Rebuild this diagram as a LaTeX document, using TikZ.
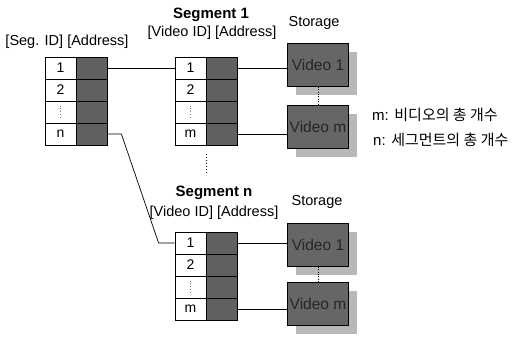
\documentclass[tikz,border=0pt]{standalone}
\usepackage{fontspec}
\setmainfont{Liberation Sans}
\newfontfamily\kor{Noto Sans CJK KR}
\usetikzlibrary{shadows}
\tikzset{
	idcell/.style={draw, line width=0.8pt, fill=white, minimum width=31pt, minimum height=22pt, inner sep=0pt, font=\fontsize{14}{16}\selectfont},
	addrcell/.style={draw, line width=0.8pt, fill=black!62, minimum width=31pt, minimum height=22pt, inner sep=0pt},
	videobox/.style={draw, line width=0.8pt, fill=black!60, minimum width=61pt, minimum height=43pt, inner sep=0pt, text=black!85, font=\fontsize{15.5}{17}\selectfont,
		drop shadow={shadow xshift=8pt, shadow yshift=-9pt, fill=black!28, opacity=1, draw=none}},
	lbl/.style={font=\fontsize{14.5}{16}\selectfont, inner sep=0pt},
	segtitle/.style={font=\fontsize{15}{17}\selectfont\bfseries, inner sep=0pt},
	legend/.style={font=\fontsize{15}{17}\selectfont, anchor=west, inner sep=0pt},
	link/.style={line width=0.7pt},
	celldots/.style={dotted, line width=0.8pt, black!55},
}
\begin{document}
\begin{tikzpicture}[x=1pt, y=-1pt]
				\useasboundingbox (0,0) rectangle (515,339);
				\node[lbl] (sidhead) at (67,42) {[Seg. ID] [Address]};
				\node[idcell] (sid1) at (60.5,68) {1};
				\node[idcell] (sid2) at (60.5,90) {2};
				\node[idcell] (sid3) at (60.5,112) {};
				\node[idcell] (sidn) at (60.5,134) {n};
				\node[addrcell] (sad1) at (91.5,68) {};
				\node[addrcell] (sad2) at (91.5,90) {};
				\node[addrcell] (sad3) at (91.5,112) {};
				\node[addrcell] (sadn) at (91.5,134) {};
				\node[segtitle] (atitle) at (211,15) {Segment 1};
				\node[lbl] (ahead) at (212,33) {[Video ID] [Address]};
				\node[idcell] (aid1) at (190.5,68) {1};
				\node[idcell] (aid2) at (190.5,90) {2};
				\node[idcell] (aid3) at (190.5,112) {};
				\node[idcell] (aidm) at (190.5,134) {m};
				\node[addrcell] (aad1) at (221.5,68) {};
				\node[addrcell] (aad2) at (221.5,90) {};
				\node[addrcell] (aad3) at (221.5,112) {};
				\node[addrcell] (aadm) at (221.5,134) {};
				\node[lbl] (astore) at (314,23) {Storage};
				\node[videobox] (v11) at (318,65) {Video 1};
				\node[videobox] (v1m) at (318,127) {Video m};
				\node[segtitle] (btitle) at (214,193) {Segment n};
				\node[lbl] (bhead) at (214,213) {[Video ID] [Address]};
				\node[idcell] (bid1) at (190.5,243) {1};
				\node[idcell] (bid2) at (190.5,265) {2};
				\node[idcell] (bid3) at (190.5,287) {};
				\node[idcell] (bidm) at (190.5,309) {m};
				\node[addrcell] (bad1) at (221.5,243) {};
				\node[addrcell] (bad2) at (221.5,265) {};
				\node[addrcell] (bad3) at (221.5,287) {};
				\node[addrcell] (badm) at (221.5,309) {};
				\node[lbl] (bstore) at (317,202) {Storage};
				\node[videobox] (vn1) at (318,245) {Video 1};
				\node[videobox] (vnm) at (318,304) {Video m};
				\node[legend] (mnote) at (372,115) {m: {\kor 비디오의 총 개수}};
				\node[legend] (nnote) at (373,140) {n: {\kor 세그먼트의 총 개수}};
				\draw[celldots] ([yshift=-5pt]sid3.north) -- ([yshift=5pt]sid3.south);
				\draw[celldots] ([yshift=-5pt]aid3.north) -- ([yshift=5pt]aid3.south);
				\draw[celldots] ([yshift=-5pt]bid3.north) -- ([yshift=5pt]bid3.south);
				\draw[dotted, line width=1pt] ([xshift=15.5pt,yshift=-9pt]aidm.south) -- ([xshift=15.5pt,yshift=-30pt]aidm.south);
				\draw[link] (sad1.east) -- (aid1.west);
				\draw[link] (sadn.east) -- ++(14,0) -- ([xshift=-16pt]bid1.west) -- (bid1.west);
				\draw[link] (aad1.east) -- (v11.west |- aad1.east);
				\draw[link] (aadm.east) -- (v1m.west |- aadm.east);
				\draw[link] (bad1.east) -- (vn1.west |- bad1.east);
				\draw[link] (badm.east) -- (vnm.west |- badm.east);
				\draw[dotted] (v11.south) -- (v1m.north);
				\draw[dotted] (vn1.south) -- (vnm.north);
\end{tikzpicture}
\end{document}
